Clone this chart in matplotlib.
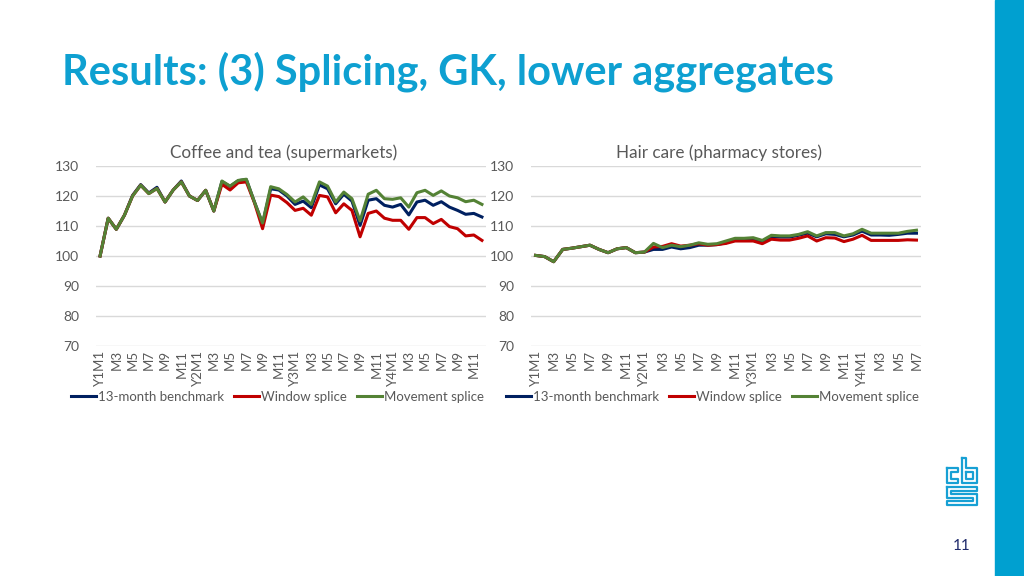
import matplotlib
matplotlib.use("Agg")
import matplotlib.pyplot as plt
from matplotlib.lines import Line2D
from matplotlib.patches import Rectangle

# ---------------- data ----------------
left_title = "Coffee and tea (supermarkets)"
right_title = "Hair care (pharmacy stores)"
series_names = ["13-month benchmark", "Window splice", "Movement splice"]

left_labels = ["Y1M1", "M3", "M5", "M7", "M9", "M11",
               "Y2M1", "M3", "M5", "M7", "M9", "M11",
               "Y3M1", "M3", "M5", "M7", "M9", "M11",
               "Y4M1", "M3", "M5", "M7", "M9", "M11"]
right_labels = ["Y1M1", "M3", "M5", "M7", "M9", "M11",
                "Y2M1", "M3", "M5", "M7", "M9", "M11",
                "Y3M1", "M3", "M5", "M7", "M9", "M11",
                "Y4M1", "M3", "M5", "M7"]

coffee_bench = [100, 112.6, 108.9, 113.6, 120.2, 123.8, 121.0, 122.9, 118.0, 122.0,
                125.0, 120.0, 118.5, 121.9, 115.0, 124.8, 123.2, 125.1, 125.5, 118.0,
                110.8, 122.4, 122.0, 120.0, 117.2, 118.3, 116.1, 123.7, 122.4, 117.4,
                120.6, 118.3, 110.2, 118.6, 119.1, 116.9, 116.3, 117.2, 113.7, 118.0,
                118.6, 116.9, 118.1, 116.3, 115.2, 113.9, 114.2, 113.0]
coffee_window = [100, 112.6, 108.9, 113.6, 120.0, 123.6, 120.8, 122.5, 118.0, 122.0,
                 124.7, 120.0, 118.5, 121.9, 115.0, 123.9, 122.0, 124.4, 124.7, 117.8,
                 109.1, 120.3, 119.8, 117.8, 115.2, 115.9, 113.6, 120.2, 119.7, 114.4,
                 117.4, 115.2, 106.4, 114.2, 115.0, 112.6, 111.9, 111.9, 108.9, 112.8,
                 112.8, 110.8, 112.2, 109.8, 109.1, 106.7, 107.0, 105.2]
coffee_movement = [100, 112.6, 108.9, 113.6, 120.0, 123.6, 120.8, 122.5, 118.0, 122.0,
                   124.7, 120.0, 118.5, 121.9, 115.0, 125.0, 123.3, 125.2, 125.6, 118.0,
                   111.0, 123.1, 122.4, 120.5, 118.0, 119.7, 117.2, 124.7, 123.3, 118.0,
                   121.3, 119.1, 111.7, 120.6, 121.9, 119.1, 118.9, 119.4, 116.3, 121.1,
                   121.9, 120.2, 121.7, 120.0, 119.4, 118.1, 118.6, 117.2]

hair_bench = [100.2, 99.8, 98.1, 102.2, 102.6, 103.1, 103.6, 102.2, 101.1, 102.4,
              102.8, 101.1, 101.3, 102.2, 102.2, 103.0, 102.4, 102.8, 103.6, 103.6,
              103.8, 104.4, 105.6, 105.6, 105.6, 104.8, 106.4, 106.3, 106.3, 106.9,
              107.6, 106.4, 107.4, 107.2, 106.4, 107.0, 108.3, 107.0, 107.0, 106.9,
              107.2, 107.6, 107.6]
hair_window = [100.2, 99.8, 98.1, 102.2, 102.6, 103.1, 103.6, 102.2, 101.1, 102.4,
               102.8, 101.1, 101.3, 103.0, 103.2, 104.1, 103.3, 103.6, 104.1, 103.6,
               103.8, 104.2, 105.0, 105.0, 105.0, 104.1, 105.6, 105.3, 105.3, 105.9,
               106.7, 105.0, 106.1, 106.0, 104.8, 105.6, 106.9, 105.2, 105.2, 105.2,
               105.2, 105.4, 105.3]
hair_movement = [100.2, 99.8, 98.1, 102.2, 102.6, 103.1, 103.6, 102.2, 101.1, 102.4,
                 102.8, 101.1, 101.3, 104.2, 102.8, 103.6, 103.1, 103.6, 104.4, 103.9,
                 104.1, 105.0, 105.9, 105.9, 106.1, 105.2, 106.9, 106.7, 106.7, 107.2,
                 108.1, 106.7, 107.8, 107.8, 106.7, 107.4, 108.9, 107.6, 107.6, 107.6,
                 107.6, 108.2, 108.6]

y_ticks = [70, 80, 90, 100, 110, 120, 130]

# ---------------- style ----------------
W, H = 1024, 576
CYAN = "#0ea0d1"
COLORS = ["#002060", "#c00000", "#548235"]
GRAY_TXT = "#595959"
GRID = "#d9d9d9"
FONT = "Lato"
plt.rcParams["font.family"] = [FONT, "DejaVu Sans"]

fig = plt.figure(figsize=(W / 100, H / 100), dpi=100)
fig.patch.set_facecolor("white")


def fx(px):
    return px / W


def fy(py):
    return 1 - py / H


# right blue bar
fig.patches.append(Rectangle((fx(995), 0), fx(W - 995), 1, transform=fig.transFigure,
                             color="#00a0d0", zorder=0))

# title
fig.text(fx(62), fy(72), "Results: (3) Splicing, GK, lower aggregates", color=CYAN,
         fontsize=30, fontweight="bold", ha="left", va="center")

# page number
fig.text(fx(962), fy(546), "11", color="#1f2a6b", fontsize=11, ha="center", va="center")

# simplified CBS logo
logo = [
    # "c"
    [(947, 468), (958, 468), (958, 472), (951, 472), (951, 479), (958, 479), (958, 483), (947, 483), (947, 468)],
    # "b"
    [(962, 458), (966, 458), (966, 468), (977, 468), (977, 483), (962, 483), (962, 458)],
    [(966, 472), (973, 472), (973, 479), (966, 479), (966, 472)],
    # "s"
    [(947, 487), (977, 487), (977, 491), (951, 491), (951, 494), (977, 494), (977, 505),
     (947, 505), (947, 501), (973, 501), (973, 498), (947, 498), (947, 487)],
]
for poly in logo:
    xs = [fx(p[0]) for p in poly]
    ys = [fy(p[1]) for p in poly]
    fig.add_artist(Line2D(xs, ys, color="#17a0d4", lw=1.6, transform=fig.transFigure))


def make_chart(x0, title, labels, series):
    ax = fig.add_axes([fx(x0), fy(346), fx(390), 180 / H])
    n = len(series[0])
    xs = list(range(n))
    for vals, c, name in zip(series, COLORS, series_names):
        ax.plot(xs, vals, color=c, lw=2.2, label=name, solid_joinstyle="round")
    ax.set_xlim(-0.5, n - 0.5)
    ax.set_ylim(70, 130)
    ax.set_yticks(y_ticks)
    ax.set_yticklabels([str(v) for v in y_ticks])
    ax.set_xticks(list(range(0, n, 2))[:len(labels)])
    ax.set_xticklabels(labels, rotation=90)
    ax.grid(axis="y", color=GRID, lw=1)
    ax.set_axisbelow(True)
    for s in ax.spines.values():
        s.set_visible(False)
    ax.tick_params(axis="both", length=0, colors=GRAY_TXT)
    ax.tick_params(axis="y", labelsize=10, pad=12)
    ax.tick_params(axis="x", labelsize=9.5, pad=3)
    ax.set_title(title, fontsize=12.3, color=GRAY_TXT, pad=6, x=0.482)
    ax.legend(loc="center left", bbox_to_anchor=(fx(x0 - 25), fy(397)),
              bbox_transform=fig.transFigure, ncol=3, frameon=False, fontsize=9.5,
              handlelength=1.9, handletextpad=0.15, columnspacing=0.75,
              labelcolor=GRAY_TXT, borderaxespad=0, borderpad=0)
    return ax


make_chart(96, left_title, left_labels, [coffee_bench, coffee_window, coffee_movement])
make_chart(531, right_title, right_labels, [hair_bench, hair_window, hair_movement])

fig.savefig("out.png", dpi=100, facecolor="white")
